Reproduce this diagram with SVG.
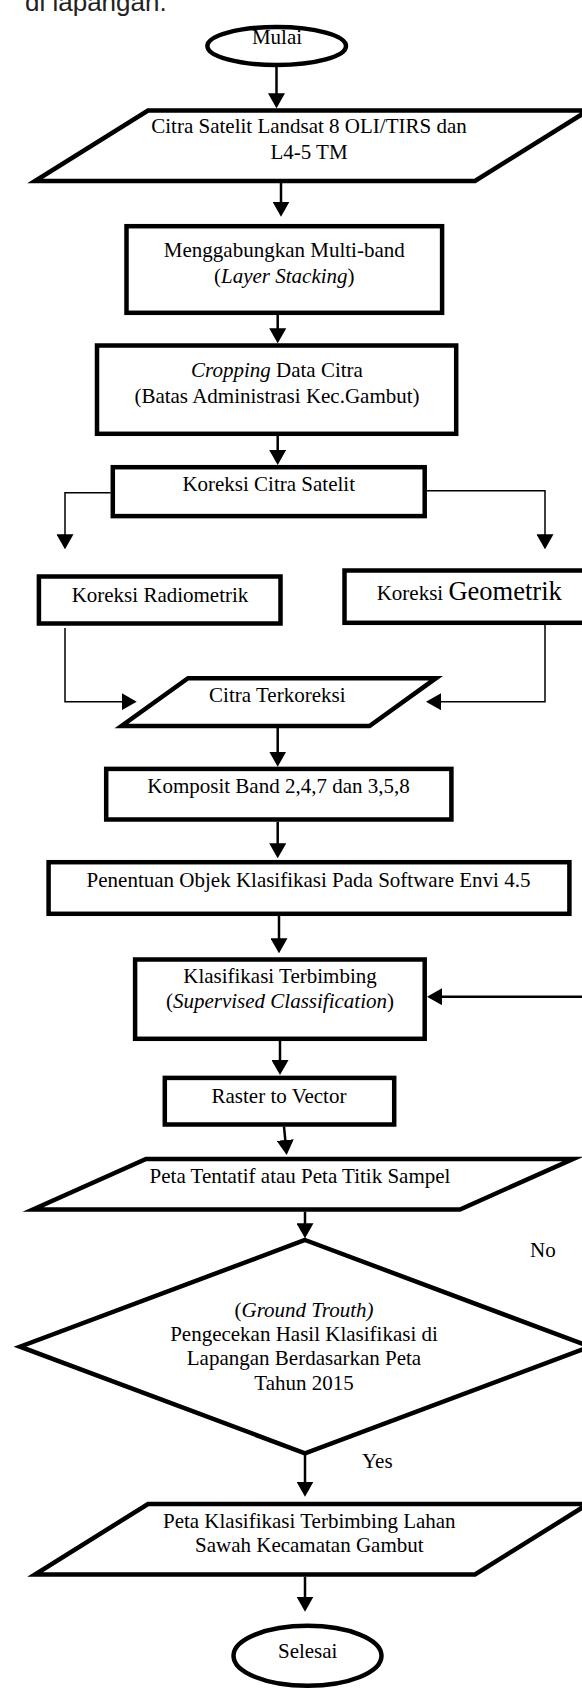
<svg xmlns="http://www.w3.org/2000/svg" width="582" height="1690" viewBox="0 0 582 1690">
<style>
.shape{fill:#fff;stroke:#000;stroke-width:4.5;stroke-linejoin:miter;stroke-miterlimit:12}
.t{font-family:"Liberation Serif","Times New Roman",serif;font-size:21px;fill:#000;text-anchor:middle}
.s{text-anchor:start}
.i{font-style:italic}
.c{fill:none;stroke:#000;stroke-width:2.5}
.thin{stroke-width:1.5}
.top{font-family:"Liberation Sans",Arial,sans-serif;font-size:26px;fill:#222}
</style>
<defs>
<marker id="ah" markerUnits="userSpaceOnUse" viewBox="0 0 15 17" markerWidth="15" markerHeight="17" refX="11" refY="8.5" orient="auto">
<path d="M0,0 L15,8.5 L0,17 z" fill="#000"/>
</marker>
</defs>
<text class="top" x="25" y="11">di lapangan.</text>
<g id="connectors">
<path class="c" d="M276.5,66.7 V104.3" marker-end="url(#ah)"/>
<path class="c" d="M281,183 V212.7" marker-end="url(#ah)"/>
<path class="c" d="M277.7,315 V339.3" marker-end="url(#ah)"/>
<path class="c" d="M277.7,436 V461" marker-end="url(#ah)"/>
<path class="c thin" d="M110.6,492.7 H65 V545.3" marker-end="url(#ah)"/>
<path class="c thin" d="M380,490.7 H545 V545.3" marker-end="url(#ah)"/>
<path class="c thin" d="M65,628 V701.7 H132.7" marker-end="url(#ah)"/>
<path class="c thin" d="M545,625 V701.7 H430" marker-end="url(#ah)"/>
<path class="c" d="M277.7,728 V762.7" marker-end="url(#ah)"/>
<path class="c" d="M277.7,821.7 V854.3" marker-end="url(#ah)"/>
<path class="c" d="M279,916 V949.3" marker-end="url(#ah)"/>
<path class="c" d="M600,996.7 H431" marker-end="url(#ah)"/>
<path class="c" d="M280,1041 V1071" marker-end="url(#ah)"/>
<path class="c" d="M284,1126.7 L286.3,1151" marker-end="url(#ah)"/>
<path class="c" d="M305,1211.7 V1234.3" marker-end="url(#ah)"/>
<path class="c" d="M305,1453.3 V1492.7" marker-end="url(#ah)"/>
<path class="c" d="M305,1576.7 V1607.7" marker-end="url(#ah)"/>
</g>
<g id="mulai">
<ellipse class="shape" cx="276.7" cy="46" rx="69.3" ry="19"/>
<text class="t" x="277" y="44">Mulai</text>
</g>
<g id="citra-satelit">
<polygon class="shape" points="148,110.5 588,110.5 475,181 35,181"/>
<text class="t" x="309" y="133.3">Citra Satelit Landsat 8 OLI/TIRS dan</text>
<text class="t" x="309" y="159.3">L4-5 TM</text>
</g>
<g id="layer-stacking">
<rect class="shape" x="126.5" y="226.2" width="315.6" height="86.6"/>
<text class="t" x="284.3" y="257.3">Menggabungkan Multi-band</text>
<text class="t" x="284.3" y="283.3">(<tspan class="i">Layer Stacking</tspan>)</text>
</g>
<g id="cropping">
<rect class="shape" x="97" y="345.5" width="359.2" height="88.3"/>
<text class="t" x="277" y="376.7"><tspan class="i">Cropping</tspan> Data Citra</text>
<text class="t" x="277" y="403.3">(Batas Administrasi Kec.Gambut)</text>
</g>
<g id="koreksi-citra">
<rect class="shape" x="112.8" y="467.2" width="311.9" height="48.9"/>
<text class="t" x="268.7" y="490.7">Koreksi Citra Satelit</text>
</g>
<g id="koreksi-radiometrik">
<rect class="shape" x="38.9" y="576.5" width="241.6" height="47"/>
<text class="t" x="160" y="601.7">Koreksi Radiometrik</text>
</g>
<g id="koreksi-geometrik">
<rect class="shape" x="344.5" y="570.5" width="260" height="52.3"/>
<text class="t s" x="376.7" y="600">Koreksi <tspan font-size="26.5">Geometrik</tspan></text>
</g>
<g id="citra-terkoreksi">
<polygon class="shape" points="188,678.2 436,678.2 369.5,726 121.5,726"/>
<text class="t" x="277.3" y="701.7">Citra Terkoreksi</text>
</g>
<g id="komposit">
<rect class="shape" x="106.2" y="768.9" width="345.2" height="50.6"/>
<text class="t" x="278.5" y="792.7">Komposit Band 2,4,7 dan 3,5,8</text>
</g>
<g id="penentuan">
<rect class="shape" x="48.6" y="862.2" width="520.8" height="51.6"/>
<text class="t" x="308.5" y="886.7">Penentuan Objek Klasifikasi Pada Software Envi 4.5</text>
</g>
<g id="klasifikasi">
<rect class="shape" x="135.1" y="959.5" width="289.6" height="79.3"/>
<text class="t" x="280" y="983.3">Klasifikasi Terbimbing</text>
<text class="t" x="280" y="1008.3">(<tspan class="i">Supervised Classification</tspan>)</text>
</g>
<g id="raster">
<rect class="shape" x="164.8" y="1077.9" width="229.4" height="46.6"/>
<text class="t" x="279" y="1103.3">Raster to Vector</text>
</g>
<g id="peta-tentatif">
<polygon class="shape" points="146,1159 573,1159 460,1209.5 33,1209.5"/>
<text class="t" x="300" y="1183.3">Peta Tentatif atau Peta Titik Sampel</text>
</g>
<g id="ground-truth">
<polygon class="shape" points="305,1240 590,1346.7 305,1453.3 20,1346.7"/>
<text class="t" x="304" y="1316.5">(<tspan class="i">Ground Trouth)</tspan></text>
<text class="t" x="304" y="1340.5">Pengecekan Hasil Klasifikasi di</text>
<text class="t" x="304" y="1364.5">Lapangan Berdasarkan Peta</text>
<text class="t" x="304" y="1389.5">Tahun 2015</text>
</g>
<g id="labels">
<text class="t s" x="530" y="1257">No</text>
<text class="t s" x="362" y="1468.3">Yes</text>
</g>
<g id="peta-klasifikasi">
<polygon class="shape" points="148,1504 588,1504 475,1574.5 35,1574.5"/>
<text class="t" x="309.3" y="1528.3">Peta Klasifikasi Terbimbing Lahan</text>
<text class="t" x="309.3" y="1551.7">Sawah Kecamatan Gambut</text>
</g>
<g id="selesai">
<ellipse class="shape" cx="307.5" cy="1655.8" rx="74" ry="30"/>
<text class="t" x="307.7" y="1658.3">Selesai</text>
</g>
</svg>
